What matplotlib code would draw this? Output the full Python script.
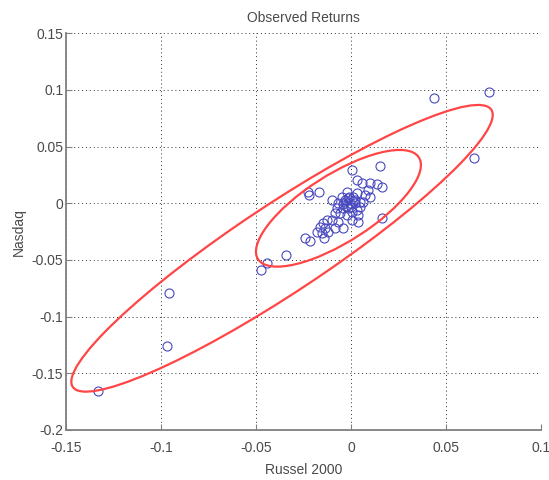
import numpy as np
import matplotlib
matplotlib.use("Agg")
import matplotlib.pyplot as plt
from matplotlib.patches import Ellipse

# daily returns, Russel 2000 vs Nasdaq
russel = [0.0153, 0.0007, 0.0030, 0.0056, 0.0100, 0.0135, 0.0165, 0.0088, 0.0074, 0.0100,
          -0.0228, -0.0221, -0.0168, 0.0030, 0.0012, -0.0014, -0.0049, -0.0032, -0.0005, 0.0021,
          -0.0067, -0.0075, -0.0041, -0.0014, 0.0004, 0.0030, 0.0047, 0.0065, -0.0084, -0.0058,
          -0.0023, 0.0038, 0.0004, 0.0038, -0.0067, -0.0102, -0.0128, -0.0146, -0.0163, -0.0137,
          -0.0181, -0.0154, -0.0119, -0.0084, -0.0041, -0.0141, -0.0242, -0.0216, 0.0165, -0.0102,
          -0.0023, 0.0010, -0.0020, 0.0020, -0.0010, 0.0000, -0.0040, 0.0050, -0.0030,
          -0.1330, -0.0956, -0.0970, -0.0475, -0.0442, -0.0344, 0.0435, 0.0728, 0.0647]
nasdaq = [0.0329, 0.0294, 0.0206, 0.0182, 0.0182, 0.0170, 0.0147, 0.0117, 0.0073, 0.0058,
          0.0102, 0.0073, 0.0102, 0.0088, 0.0058, 0.0044, 0.0058, 0.0014, 0.0000, 0.0000,
          0.0000, -0.0044, -0.0044, -0.0044, -0.0074, -0.0059, -0.0030, 0.0014, -0.0088, -0.0088,
          -0.0103, -0.0103, -0.0147, -0.0162, -0.0162, -0.0147, -0.0147, -0.0177, -0.0207, -0.0221,
          -0.0251, -0.0265, -0.0251, -0.0221, -0.0221, -0.0309, -0.0309, -0.0330, -0.0132, 0.0029,
          0.0102, 0.0020, -0.0020, 0.0030, 0.0060, -0.0030, -0.0010, 0.0010, 0.0030,
          -0.1657, -0.0794, -0.1259, -0.0589, -0.0530, -0.0453, 0.0932, 0.0980, 0.0403]

# contour ellipses: centre and covariance (xx, xy, yy)
ell_centres = [(-0.0363, -0.0397), (-0.0066, -0.0044)]
ell_covs = [(0.0123, 0.01305, 0.0160), (0.001885, 0.001658, 0.00265)]

txt = '#4a4a4a'
plt.rcParams['font.family'] = ['Liberation Sans', 'DejaVu Sans']
plt.rcParams['font.size'] = 10

fig = plt.figure(figsize=(5.49, 4.8), dpi=100)
ax = fig.add_axes([0.1202, 0.1042, 0.8652, 0.8264])

ax.plot(russel, nasdaq, 'o', mfc='none', mec='#4848c0', ms=6.5, mew=0.8, zorder=3)

for c, (sxx, sxy, syy) in zip(ell_centres, ell_covs):
    S = np.array([[sxx, sxy], [sxy, syy]])
    vals, vecs = np.linalg.eigh(S)
    ang = np.degrees(np.arctan2(vecs[1, 1], vecs[0, 1]))
    e = Ellipse(c, 2*np.sqrt(vals[1]), 2*np.sqrt(vals[0]), angle=ang,
                fill=False, ec='#ff4545', lw=1.6, zorder=4)
    ax.add_patch(e)

ax.set_xlim(-0.15, 0.1)
ax.set_ylim(-0.2, 0.15)
ax.set_xticks([-0.15, -0.1, -0.05, 0, 0.05, 0.1])
ax.set_xticklabels(['-0.15', '-0.1', '-0.05', '0', '0.05', '0.1'])
ax.set_yticks([-0.2, -0.15, -0.1, -0.05, 0, 0.05, 0.1, 0.15])
ax.set_yticklabels(['-0.2', '-0.15', '-0.1', '-0.05', '0', '0.05', '0.1', '0.15'])

ax.grid(True, linestyle=(0, (1, 3)), color='#303030', lw=0.7)
for s in ['top', 'right']:
    ax.spines[s].set_visible(False)
for s in ['left', 'bottom']:
    ax.spines[s].set_color('#808080')
    ax.spines[s].set_linewidth(1.3)
ax.tick_params(direction='in', length=4, color='#808080', labelcolor=txt)
ax.tick_params(axis='y', pad=2)
ax.tick_params(axis='x', pad=8)

ax.set_title('Observed Returns', color=txt, fontsize=10, pad=8)
ax.set_xlabel('Russel 2000', color=txt, labelpad=6)
ax.set_ylabel('Nasdaq', color=txt, labelpad=4)

fig.savefig('out.png', dpi=100)
